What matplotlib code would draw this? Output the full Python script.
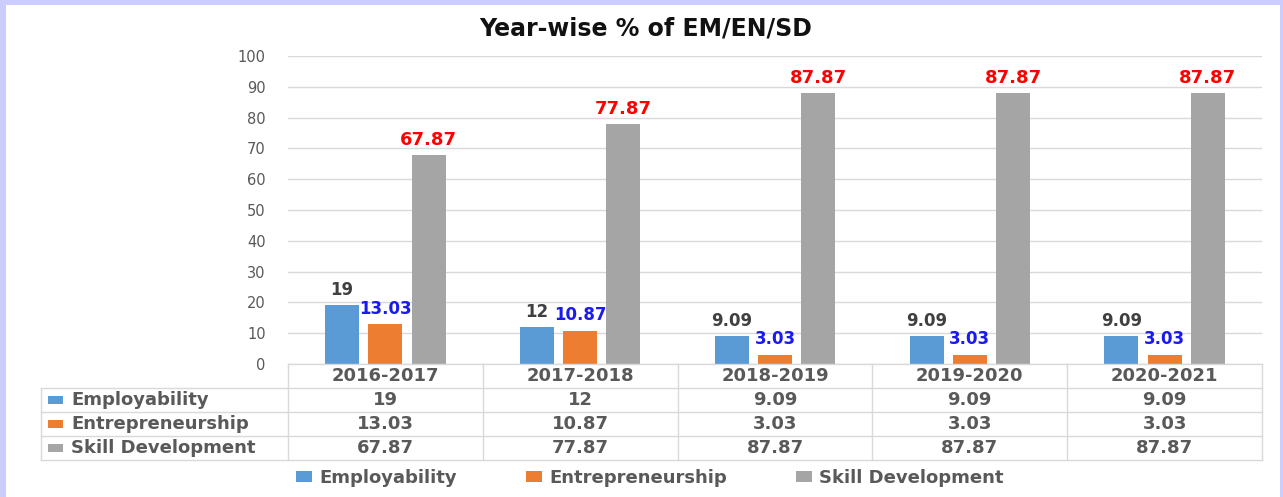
import matplotlib

matplotlib.use("Agg")
import matplotlib.pyplot as plt
import numpy as np
from matplotlib.patches import Rectangle
from matplotlib.transforms import blended_transform_factory

plt.rcParams["font.family"] = ["DejaVu Sans"]

# data
years = ["2016-2017", "2017-2018", "2018-2019", "2019-2020", "2020-2021"]
series = ["Employability", "Entrepreneurship", "Skill Development"]
employability = [19, 12, 9.09, 9.09, 9.09]
entrepreneurship = [13.03, 10.87, 3.03, 3.03, 3.03]
skill_dev = [67.87, 77.87, 87.87, 87.87, 87.87]
y_ticks = list(range(0, 101, 10))

W, H = 1283, 497
bar_colors = ["#5b9bd5", "#ed7d31", "#a5a5a5"]
label_colors = ["#404040", "#1a1aee", "#ff0000"]
txt = "#595959"
grid_c = "#d9d9d9"


def fx(px):
    return px / W


def fy(py):
    return 1 - py / H


fig = plt.figure(figsize=(W / 100, H / 100), dpi=100, facecolor="#ccccff")
fig.patches.append(Rectangle((fx(6), 0), fx(1280) - fx(6), fy(5), transform=fig.transFigure,
                             facecolor="white", edgecolor="none", zorder=-5))

ax = fig.add_axes([fx(288), fy(364), fx(1262) - fx(288), fy(56) - fy(364)])
ax.set_facecolor("none")

x = np.arange(len(years))
step, bw = 0.222, 0.174
values = [employability, entrepreneurship, skill_dev]
for i, (vals, col) in enumerate(zip(values, bar_colors)):
    bars = ax.bar(x + (i - 1) * step, vals, width=bw, color=col, zorder=3)
    size = 13 if i == 2 else 12
    for b, v in zip(bars, vals):
        ax.annotate(f"{v:g}", (b.get_x() + b.get_width() / 2, v), xytext=(0, 4.5),
                    textcoords="offset points", ha="center", va="bottom",
                    fontsize=size, fontweight="bold", color=label_colors[i], zorder=4)

ax.set_xlim(-0.5, len(years) - 0.5)
ax.set_ylim(0, 100)
ax.set_yticks(y_ticks)
ax.tick_params(axis="y", length=0, pad=16, labelsize=10.5, labelcolor=txt)
ax.set_xticks([])
ax.grid(axis="y", color=grid_c, linewidth=1, zorder=0)
for s in ax.spines.values():
    s.set_visible(False)

fig.text(0.503, fy(28), "Year-wise % of EM/EN/SD", ha="center", va="center",
         fontsize=17, fontweight="bold", color="#111111")

# data table under the axis
bt = blended_transform_factory(ax.transData, fig.transFigure)
row_y = [364, 388, 412, 436, 460]
tab_left = fx(41)
plot_left, plot_right = fx(288), fx(1262)
for k, py in enumerate(row_y):
    x0 = plot_left if k == 0 else tab_left
    fig.add_artist(plt.Line2D([x0, plot_right], [fy(py), fy(py)], color=grid_c, lw=1,
                              transform=fig.transFigure))
fig.add_artist(plt.Line2D([tab_left, tab_left], [fy(388), fy(460)], color=grid_c, lw=1,
                          transform=fig.transFigure))
for j in range(len(years) + 1):
    ax_x = j - 0.5
    fig.add_artist(plt.Line2D([ax_x, ax_x], [fy(364), fy(460)], color=grid_c, lw=1,
                              transform=bt))
for j, yr in enumerate(years):
    fig.text(j, fy(376), yr, transform=bt, ha="center", va="center",
             fontsize=13, fontweight="bold", color=txt)
for r, (name, vals, col) in enumerate(zip(series, values, bar_colors)):
    yc = fy(row_y[r + 1] + 12)
    fig.patches.append(Rectangle((fx(48), yc - 4 / H), fx(15), 8 / H,
                                 transform=fig.transFigure, facecolor=col, edgecolor="none"))
    fig.text(fx(71), yc, name, ha="left", va="center", fontsize=13,
             fontweight="bold", color=txt)
    for j, v in enumerate(vals):
        fig.text(j, yc, f"{v:g}", transform=bt, ha="center", va="center",
                 fontsize=13, fontweight="bold", color=txt)

# legend
handles = [Rectangle((0, 0), 1, 1, facecolor=c, edgecolor="none") for c in bar_colors]
fig.legend(handles, series, loc="center", bbox_to_anchor=(fx(650), fy(478)), ncol=3,
           frameon=False, prop={"size": 13, "weight": "bold"}, labelcolor=txt,
           handlelength=0.9, handleheight=0.55, handletextpad=0.4, columnspacing=3.8)

fig.savefig("out.png", dpi=100, facecolor=fig.get_facecolor())
